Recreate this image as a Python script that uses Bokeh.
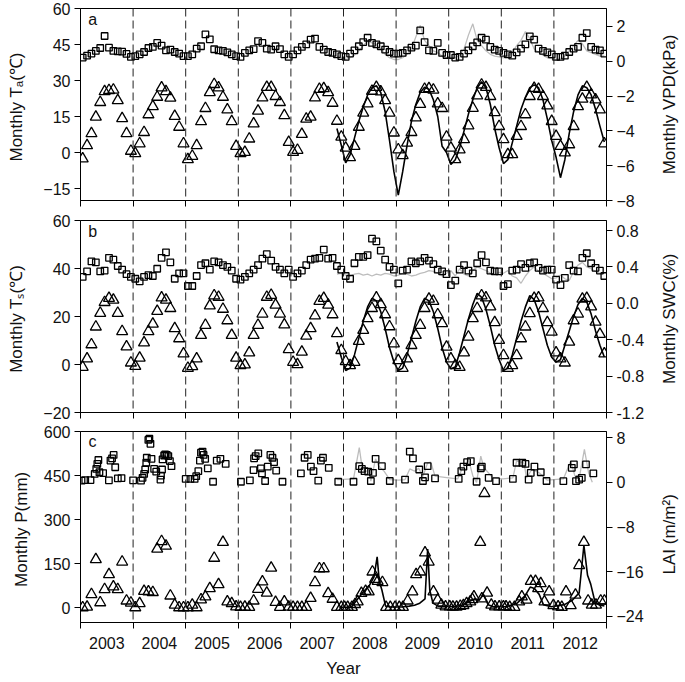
import math
from bokeh.plotting import figure
from bokeh.models import (Range1d, LinearAxis, FixedTicker, Span, Label,
                          PrintfTickFormatter)
from bokeh.core.properties import value
from bokeh.layouts import column, row
from bokeh.embed import file_html
from bokeh.resources import INLINE

FONT = "Liberation Sans"

# ---------------- data ----------------
years = list(range(2003, 2013))
year_labels = [str(y) for y in years]

# Panel a: monthly air temperature (left axis, triangles) 2003-2012
ta_obs = [
    -2.6, 2.9, 7.9, 14.8, 20.9, 25.4, 25.9, 26.1, 21.7, 14.2, 7.9, 0.6,
    -0.4, 3.7, 8.4, 15.8, 19.2, 23.1, 27.0, 25.4, 22.7, 15.1, 10.6, 3.7,
    -2.9, -1.5, 2.9, 12.9, 18.4, 25.0, 28.4, 27.0, 23.1, 17.8, 12.9, 2.6,
    -0.4, 0.1, 5.7, 12.0, 17.3, 22.8, 27.2, 27.2, 23.4, 20.9, 15.4, 4.3,
    0.1, 1.0, 7.6, 14.0, 14.8, 22.8, 26.4, 26.7, 25.0, 20.6, 13.1, 6.5,
    1.9, -2.1, 2.6, 10.6, 16.5, 20.3, 25.6, 27.2, 25.3, 21.7, 16.5, 8.2,
    1.2, -1.2, 4.0, 8.4, 14.5, 20.1, 26.4, 26.7, 26.1, 20.3, 18.4, 6.5,
    1.9, -2.9, 1.2, 5.4, 11.2, 18.5, 23.7, 28.2, 27.2, 23.4, 16.7, 10.9,
    5.4, -0.8, -0.8, 6.8, 10.9, 15.8, 23.4, 26.8, 26.4, 23.4, 19.5, 13.0,
    6.8, 2.6, -0.1, 3.3, 10.9, 19.2, 22.3, 27.2, 24.1, 22.0, 17.8, 3.7]
# monthly VPD (right axis, squares)
vpd_obs = [
    0.21, 0.32, 0.44, 0.59, 0.76, 1.45, 0.78, 0.59, 0.57, 0.55, 0.42, 0.25,
    0.29, 0.40, 0.53, 0.76, 0.82, 1.05, 0.90, 0.63, 0.67, 0.53, 0.44, 0.29,
    0.29, 0.40, 0.72, 0.86, 1.54, 1.26, 0.69, 0.63, 0.59, 0.51, 0.40, 0.29,
    0.25, 0.48, 0.63, 0.70, 1.16, 1.05, 0.72, 0.67, 0.86, 0.70, 0.40, 0.25,
    0.40, 0.63, 0.82, 0.97, 1.24, 1.30, 0.82, 0.67, 0.53, 0.48, 0.40, 0.29,
    0.25, 0.44, 0.63, 0.86, 1.10, 1.35, 1.05, 0.97, 0.86, 0.67, 0.53, 0.44,
    0.44, 0.48, 0.63, 0.78, 0.90, 1.77, 1.10, 0.63, 0.59, 1.05, 0.48, 0.36,
    0.36, 0.21, 0.25, 0.44, 0.63, 0.86, 1.08, 1.35, 1.24, 0.82, 0.67, 0.59,
    0.48, 0.40, 0.32, 0.51, 0.72, 0.97, 1.43, 1.24, 0.72, 0.59, 0.51, 0.40,
    0.25, 0.25, 0.32, 0.53, 0.72, 0.82, 1.35, 1.62, 0.82, 0.67, 0.63, 0.44]
# simulated series start at Nov 2007 (month index 58)
sim_start = 58
ta_sim = [10, 3, -4.3, -1, 6, 13, 19, 24, 27, 27.8, 25, 17,
          5, -8, -17.8, -8, 3, 13, 20, 25, 27.2, 26.3, 22, 15,
          2.6, 0, -5, -3, 2, 9, 16, 22, 27, 29.5, 27, 20,
          10, 2, -4.6, -3, 4, 11, 18, 23, 27, 28.2, 27, 22,
          14, 5, -2, -10.5, -3, 8, 17, 24, 27.8, 27, 24, 18, 11, 4.4]
vpd_sim = [0.3, 0.2, 0.1, 0.2, 0.35, 0.6, 0.9, 1.15, 1.05, 0.95, 0.7, 0.4,
           0.2, 0.1, 0.1, 0.2, 0.4, 0.7, 1.4, 2.06, 1.2, 0.9, 0.6, 0.5,
           0.3, 0.2, 0.15, 0.2, 0.35, 0.7, 1.5, 2.15, 1.2, 0.9, 0.6, 0.4,
           0.3, 0.25, 0.2, 0.3, 0.5, 0.9, 1.2, 1.7, 1.3, 0.7, 0.5, 0.35,
           0.2, 0.15, 0.1, 0.15, 0.3, 0.6, 0.9, 1.2, 1.0, 0.6, 0.5, 0.4, 0.3, 0.3]

# Panel b: soil temperature (left, triangles) and SWC (right, squares)
ts_obs = [
    -1.1, 2.4, 8.3, 15.7, 21.4, 25.9, 27.6, 26.9, 21.4, 13.8, 7.4, 0.7,
    -0.7, 2.7, 9.1, 13.8, 16.9, 22.2, 27.8, 26.9, 23.4, 15.0, 10.8, 4.5,
    -1.5, -0.8, 2.4, 12.2, 16.4, 24.5, 28.7, 28.1, 23.1, 18.3, 12.2, 2.7,
    -0.4, -0.1, 4.9, 12.2, 16.4, 21.1, 28.1, 28.9, 24.8, 21.1, 16.6, 6.3,
    1.0, 0.0, 5.2, 11.9, 15.0, 20.3, 26.4, 27.6, 24.8, 20.8, 12.9, 5.9,
    1.3, -0.4, 1.0, 9.7, 14.3, 19.2, 23.4, 27.8, 25.0, 20.8, 15.8, 8.7,
    1.7, -1.5, 2.4, 8.0, 12.2, 16.4, 23.4, 27.3, 26.4, 20.8, 17.1, 7.3,
    2.4, -0.4, -1.1, 4.9, 11.5, 19.2, 23.4, 28.7, 27.8, 24.1, 17.5, 10.1,
    3.8, -1.5, -0.4, 3.8, 10.8, 15.7, 21.3, 27.6, 27.8, 23.4, 17.5, 13.6,
    4.9, 2.4, 0.7, 9.4, 18.3, 21.1, 27.3, 27.6, 24.1, 17.7, 12.6, 4.5]
swc_obs = [
    0.29, 0.35, 0.46, 0.45, 0.35, 0.36, 0.50, 0.48, 0.41, 0.37, 0.32, 0.29,
    0.27, 0.24, 0.29, 0.31, 0.30, 0.38, 0.50, 0.56, 0.45, 0.27, 0.33, 0.33,
    0.19, 0.19, 0.30, 0.42, 0.44, 0.37, 0.46, 0.45, 0.42, 0.40, 0.36, 0.27,
    0.26, 0.29, 0.33, 0.37, 0.42, 0.49, 0.54, 0.47, 0.40, 0.37, 0.33, 0.37,
    0.29, 0.33, 0.36, 0.42, 0.48, 0.49, 0.50, 0.59, 0.49, 0.50, 0.41, 0.37,
    0.30, 0.27, 0.44, 0.51, 0.51, 0.53, 0.71, 0.68, 0.58, 0.48, 0.40, 0.37,
    0.22, 0.36, 0.37, 0.46, 0.44, 0.46, 0.50, 0.47, 0.43, 0.37, 0.35, 0.32,
    0.20, 0.25, 0.37, 0.42, 0.36, 0.33, 0.44, 0.53, 0.45, 0.36, 0.35, 0.35,
    0.19, 0.21, 0.36, 0.37, 0.43, 0.39, 0.44, 0.45, 0.39, 0.36, 0.37, 0.37,
    0.26, 0.20, 0.28, 0.42, 0.36, 0.35, 0.50, 0.55, 0.44, 0.39, 0.36, 0.30]
ts_sim = [9.4, 3, -2.5, -1.5, 4, 11, 18, 24, 27.6, 26.5, 22, 15,
          7, 1, -2.5, -1.5, 4, 11, 18, 24, 27.6, 26.5, 22, 15,
          7, 1, -1.8, -1, 5, 12, 19, 25, 29.7, 28, 23, 16,
          8, 2, -2.5, -1.5, 4, 11, 18, 24, 28.7, 27, 22, 15,
          8, 3, 1, 2, 8, 14, 20, 25, 27.6, 26, 21, 14, 8, 3.1]
swc_sim = [0.32, 0.33, 0.31, 0.30, 0.32, 0.33, 0.31, 0.32, 0.30, 0.32, 0.31, 0.33,
           0.32, 0.30, 0.31, 0.33, 0.32, 0.30, 0.31, 0.33, 0.34, 0.36, 0.35, 0.33,
           0.30, 0.33, 0.36, 0.30, 0.38, 0.32, 0.30, 0.36, 0.40, 0.38, 0.36, 0.33,
           0.32, 0.34, 0.33, 0.36, 0.30, 0.28, 0.22, 0.30, 0.36, 0.40, 0.35, 0.33,
           0.30, 0.27, 0.28, 0.31, 0.27, 0.25, 0.35, 0.42, 0.45, 0.40, 0.38, 0.35,
           0.33, 0.33]

# Panel c: precipitation (left, triangles): monthly 2003-2007, then dated records
p_monthly_0307 = [
    0, 2, 45, 164, 17, 62, 113, 71, 62, 156, 23, 16,
    0, 14, 56, 54, 52, 200, 226, 210, 40, 9, 0, 0,
    0, 9, 0, 27, 37, 65, 169, 79, 223, 20, 14, 3,
    1, 2, 1, 23, 63, 88, 50, 135, 18, 1, 20, 2,
    1, 1, 1, 1, 32, 86, 133, 133, 48, 29, 1, 1]
p_date_0812 = [
    2008.02, 2008.08, 2008.16, 2008.22, 2008.27, 2008.34, 2008.42, 2008.48, 2008.55,
    2008.60, 2008.65, 2008.74, 2008.81, 2008.89, 2008.98,
    2009.06, 2009.13, 2009.22, 2009.31, 2009.38, 2009.46, 2009.55, 2009.62, 2009.71,
    2009.79, 2009.86, 2009.94,
    2010.02, 2010.08, 2010.15, 2010.22, 2010.28, 2010.34, 2010.41, 2010.45, 2010.48,
    2010.60, 2010.63, 2010.68, 2010.73, 2010.81, 2010.88, 2010.96,
    2011.04, 2011.09, 2011.16, 2011.25, 2011.34, 2011.39, 2011.48, 2011.56, 2011.65,
    2011.70, 2011.75, 2011.82, 2011.91, 2011.99,
    2012.08, 2012.15, 2012.23, 2012.32, 2012.41, 2012.48, 2012.57, 2012.65, 2012.72,
    2012.80, 2012.89, 2012.96]
p_val_0812 = [
    1, 1, 1, 11, 20, 49, 56, 54, 122, 97, 90, 86, 1, 1, 1,
    1, 1, 23, 54, 113, 122, 187, 156, 54, 26, 9, 3,
    3, 2, 2, 5, 7, 14, 20, 28, 37, 223, 30, 390, 50, 9, 3, 3,
    3, 3, 1, 1, 20, 37, 26, 90, 90, 65, 82, 20, 54, 7,
    3, 1, 54, 7, 43, 144, 223, 23, 9, 9, 23, 23]
p_sim_date = [2007.92, 2008.15, 2008.25, 2008.36, 2008.49, 2008.58, 2008.64, 2008.68,
              2008.73, 2008.80, 2008.90, 2009.10, 2009.25, 2009.35, 2009.45, 2009.55,
              2009.60, 2009.64, 2009.70, 2009.80, 2009.95, 2010.10, 2010.25, 2010.38,
              2010.50, 2010.58, 2010.66, 2010.75, 2010.85, 2011.10, 2011.30, 2011.45,
              2011.55, 2011.63, 2011.72, 2011.80, 2011.95, 2012.20, 2012.35, 2012.48,
              2012.57, 2012.64, 2012.70, 2012.78, 2012.85, 2012.96]
p_sim = [1, 1, 25, 50, 75, 105, 173, 90, 60, 5, 2, 2, 5, 8, 15, 30, 200, 60, 15, 5, 5,
         3, 8, 20, 30, 25, 45, 10, 3, 3, 15, 40, 70, 65, 45, 10, 3, 10, 25, 50, 212,
         110, 80, 20, 10, 5]
# LAI (right axis, squares)
lai_date = [
    2003.02, 2003.09, 2003.19, 2003.27, 2003.30, 2003.32, 2003.34, 2003.36, 2003.43,
    2003.54, 2003.57, 2003.60, 2003.63, 2003.66, 2003.71, 2003.78,
    2004.00, 2004.15, 2004.18, 2004.21, 2004.23, 2004.25, 2004.26, 2004.29, 2004.31,
    2004.33, 2004.35, 2004.40, 2004.44, 2004.52, 2004.53, 2004.55, 2004.56, 2004.59,
    2004.61, 2004.64, 2004.67, 2004.70, 2004.73,
    2005.00, 2005.09, 2005.17, 2005.20, 2005.24, 2005.27, 2005.29, 2005.32, 2005.34,
    2005.37, 2005.42, 2005.52, 2005.59, 2005.66, 2005.76,
    2006.05, 2006.22, 2006.29, 2006.30, 2006.33, 2006.38, 2006.43, 2006.45, 2006.51,
    2006.56, 2006.61, 2006.65, 2006.68, 2006.72, 2006.84,
    2007.19, 2007.26, 2007.32, 2007.38, 2007.43, 2007.52, 2007.57, 2007.61, 2007.72,
    2007.90,
    2008.19, 2008.30, 2008.35, 2008.40, 2008.47, 2008.52, 2008.56, 2008.61, 2008.73,
    2008.88,
    2009.17, 2009.26, 2009.32, 2009.44, 2009.51, 2009.55, 2009.60, 2009.74,
    2010.19, 2010.24, 2010.28, 2010.35, 2010.42, 2010.53, 2010.61, 2010.63, 2010.76,
    2010.90,
    2011.22, 2011.29, 2011.40, 2011.46, 2011.52, 2011.56, 2011.63, 2011.75, 2011.86,
    2012.18, 2012.34, 2012.38, 2012.42, 2012.48, 2012.53, 2012.61, 2012.75]
lai_obs = [
    0.3, 0.4, 0.4, 1.5, 2.4, 3.3, 4.0, 1.8, 1.65, 0.35, 3.9, 4.3, 4.9, 2.7, 0.7, 0.76,
    0.35, 0.3, 0.8, 1.5, 2.3, 3.5, 4.4, 7.6, 7.8, 6.9, 4.2, 2.4, 1.9, 0.5, 1.2, 2.3,
    4.1, 4.8, 5.0, 4.9, 4.7, 3.8, 2.9,
    0.6, 0.6, 0.6, 1.1, 2.0, 3.9, 5.3, 5.5, 4.9, 4.2, 2.5, 0.1, 3.9, 4.2, 3.3,
    0.1, 0.36, 2.2, 4.3, 4.7, 5.2, 2.5, 1.6, 0.24, 2.8, 4.9, 4.4, 3.6, 2.1, 0.1,
    1.6, 4.4, 4.9, 2.8, 2.0, 0.3, 3.9, 4.4, 2.6, 0.1,
    0.1, 2.9, 2.4, 2.0, 1.9, 0.24, 1.7, 4.2, 2.9, 0.24,
    0.5, 5.5, 4.3, 2.3, 0.24, 0.9, 2.9, 0.7,
    0.6, 2.0, 2.8, 3.6, 3.8, 0.1, 2.5, 2.8, 0.8, 0.2,
    0.6, 3.5, 3.5, 3.3, 0.5, 1.7, 2.8, 1.8, 0.24,
    0.2, 2.6, 3.2, 0.2, 0.5, 0.8, 3.2, 1.6]
lai_sim_date = [2007.88, 2008.19, 2008.30, 2008.36, 2008.42, 2008.48, 2008.52, 2008.61,
                2008.67, 2008.77, 2008.88, 2009.05, 2009.17, 2009.26, 2009.35, 2009.43,
                2009.51, 2009.60, 2009.66, 2009.74, 2010.00, 2010.17, 2010.24, 2010.38,
                2010.46, 2010.53, 2010.61, 2010.67, 2010.84, 2011.03, 2011.22, 2011.29,
                2011.43, 2011.48, 2011.58, 2011.72, 2011.87, 2012.18, 2012.32, 2012.40,
                2012.49, 2012.58, 2012.66, 2012.73]
lai_sim = [0.5, 0.6, 6.2, 2.3, 1.8, 2.4, 0.2, 4.2, 2.9, 2.0, 0.5, 0.4, 0.5, 2.4, 2.0,
           2.5, 1.1, 3.5, 3.6, 1.1, 0.8, 0.6, 2.1, 4.0, 1.1, 0.0, 4.7, 2.6, 0.8, 0.6,
           0.8, 3.8, 3.5, 0.8, 2.3, 1.7, 0.4, 0.6, 3.8, 1.1, 1.2, 5.9, 1.7, 0.0]

# ---------------- layout constants ----------------
FW = 526            # frame width
BL, BR = 80, 52     # left / right borders of the main panels
LW = 24             # width of the strip holding the right-hand titles


def month_dates(start, n):
    return [2003 + (start + i + 0.5) / 12.0 for i in range(n)]


def style_yaxis(ax, ticks, label, standoff, fmt=None):
    ax.ticker = FixedTicker(ticks=ticks)
    if fmt:
        ax.formatter = PrintfTickFormatter(format=fmt)
    ax.major_tick_out = 6
    ax.major_tick_in = 0
    ax.minor_tick_line_color = None
    ax.major_tick_line_color = "black"
    ax.axis_line_color = "black"
    ax.major_label_text_font = FONT
    ax.major_label_text_font_size = "16px"
    ax.major_label_text_color = "#111111"
    ax.major_label_standoff = 4
    ax.axis_label = label
    ax.axis_label_text_font = FONT
    ax.axis_label_text_font_size = "17px"
    ax.axis_label_text_font_style = "normal"
    ax.axis_label_text_color = "#111111"
    ax.axis_label_standoff = standoff


def make_panel(yl, yr, lticks, rticks, llabel, rlabel, lstand, rfmt,
               letter, letter_y, rlabel_y, height, top, bottom, show_x):
    p = figure(width=BL + FW + BR, height=height, x_range=Range1d(2003, 2013),
               y_range=Range1d(*yl), output_backend="svg", toolbar_location=None,
               min_border_left=BL, min_border_right=BR, min_border_top=top,
               min_border_bottom=bottom)
    p.extra_y_ranges = {"r": Range1d(*yr)}
    p.grid.visible = False
    p.outline_line_color = "black"
    p.outline_line_width = 1
    p.background_fill_color = "white"
    p.border_fill_color = "white"

    xa = p.xaxis[0]
    xa.ticker = FixedTicker(ticks=[y + 0.5 for y in years],
                            minor_ticks=list(range(2003, 2014)))
    xa.formatter = PrintfTickFormatter(format="%d")
    xa.major_tick_line_color = None
    xa.minor_tick_out = 6
    xa.minor_tick_in = 0
    xa.minor_tick_line_color = "black"
    xa.axis_line_color = "black"
    xa.major_label_text_font = FONT
    xa.major_label_text_color = "#111111"
    if show_x:
        xa.major_label_text_font_size = "16px"
        xa.major_label_standoff = 8
        xa.axis_label = "Year"
        xa.axis_label_text_font = FONT
        xa.axis_label_text_font_size = "17px"
        xa.axis_label_text_font_style = "normal"
        xa.axis_label_text_color = "#111111"
        xa.axis_label_standoff = 7
    else:
        xa.formatter = PrintfTickFormatter(format="")
        xa.major_label_text_font_size = "0px"
        xa.major_label_standoff = 0

    style_yaxis(p.yaxis[0], lticks, llabel, lstand)
    ra = LinearAxis(y_range_name="r")
    p.add_layout(ra, "right")
    style_yaxis(ra, rticks, "", 0, rfmt)

    for b in range(2004, 2013):
        p.add_layout(Span(location=b, dimension="height", line_color="#222222",
                          line_dash="8 4", line_width=1))
    p.add_layout(Label(x=2003.23, y=letter_y, text=letter, text_font=FONT,
                       text_font_size="16px", text_align="center",
                       text_baseline="middle", text_color="#111111"))

    # narrow strip on the right carrying the right-axis title (bottom-to-top)
    t = figure(width=LW, height=height, x_range=Range1d(0, 1), y_range=Range1d(*yl),
               output_backend="svg", toolbar_location=None,
               min_border_left=0, min_border_right=0, min_border_top=top,
               min_border_bottom=bottom)
    t.axis.visible = False
    t.grid.visible = False
    t.outline_line_color = None
    t.text(x=[0.45], y=[rlabel_y], text=[rlabel], angle=math.pi / 2,
           text_font=value(FONT), text_font_size=value("17px"),
           text_align="center", text_baseline="middle", text_color="#111111")
    return row(p, t, spacing=0)


def tri(p, x, y, rn="default"):
    p.scatter(x, y, marker="triangle", size=11, fill_color=None, line_color="black",
              line_width=1.3, y_range_name=rn)


def sq(p, x, y, rn="r"):
    p.scatter(x, y, marker="square", size=6.5, fill_color=None, line_color="black",
              line_width=1.3, y_range_name=rn)


mx = month_dates(0, 120)

# ---- panel a
ra_ = make_panel((-20, 60), (-8, 3.03), [-15, 0, 15, 30, 45, 60], [-8, -6, -4, -2, 0, 2],
                 "Monthly  T\u2090(\u2103)", "Monthly  VPD(kPa)", 14, None,
                 "a", 55.4, 21, 209, 8, 9, False)
pa = ra_.children[0]
pa.line(month_dates(sim_start, len(vpd_sim)), vpd_sim, line_color="#bdbdbd",
        line_width=1.3, y_range_name="r")
pa.line(month_dates(sim_start, len(ta_sim)), ta_sim, line_color="black", line_width=1.6)
sq(pa, mx, vpd_obs)
tri(pa, mx, ta_obs)

# ---- panel b
rb_ = make_panel((-20, 60), (-1.2, 0.91), [-20, 0, 20, 40, 60],
                 [-1.2, -0.8, -0.4, 0.0, 0.4, 0.8],
                 "Monthly  T\u209b(\u2103)", "Monthly  SWC(%)", 14, "%.1f",
                 "b", 55.4, 20, 212, 11, 9, False)
pb = rb_.children[0]
pb.line(month_dates(sim_start, len(swc_sim)), swc_sim, line_color="#bdbdbd",
        line_width=1.3, y_range_name="r")
pb.line(month_dates(sim_start, len(ts_sim)), ts_sim, line_color="black", line_width=1.6)
sq(pb, mx, swc_obs)
tri(pb, mx, ts_obs)

# ---- panel c
rc_ = make_panel((-51, 601), (-25.1, 9.1), [0, 150, 300, 450, 600], [-24, -16, -8, 0, 8],
                 "Monthly  P(mm)", "LAI  (m/m\u00b2)", 10, None,
                 "c", 567, 258, 259, 10, 57, True)
pc = rc_.children[0]
pc.line(lai_sim_date, lai_sim, line_color="#bdbdbd", line_width=1.3, y_range_name="r")
pc.line(p_sim_date, p_sim, line_color="black", line_width=1.6)
sq(pc, lai_date, lai_obs)
p_dates = month_dates(0, len(p_monthly_0307)) + p_date_0812
p_vals = p_monthly_0307 + p_val_0812
tri(pc, p_dates, p_vals)

layout = column(ra_, rb_, rc_, spacing=0)
open("out.html", "w").write(file_html(layout, INLINE))
